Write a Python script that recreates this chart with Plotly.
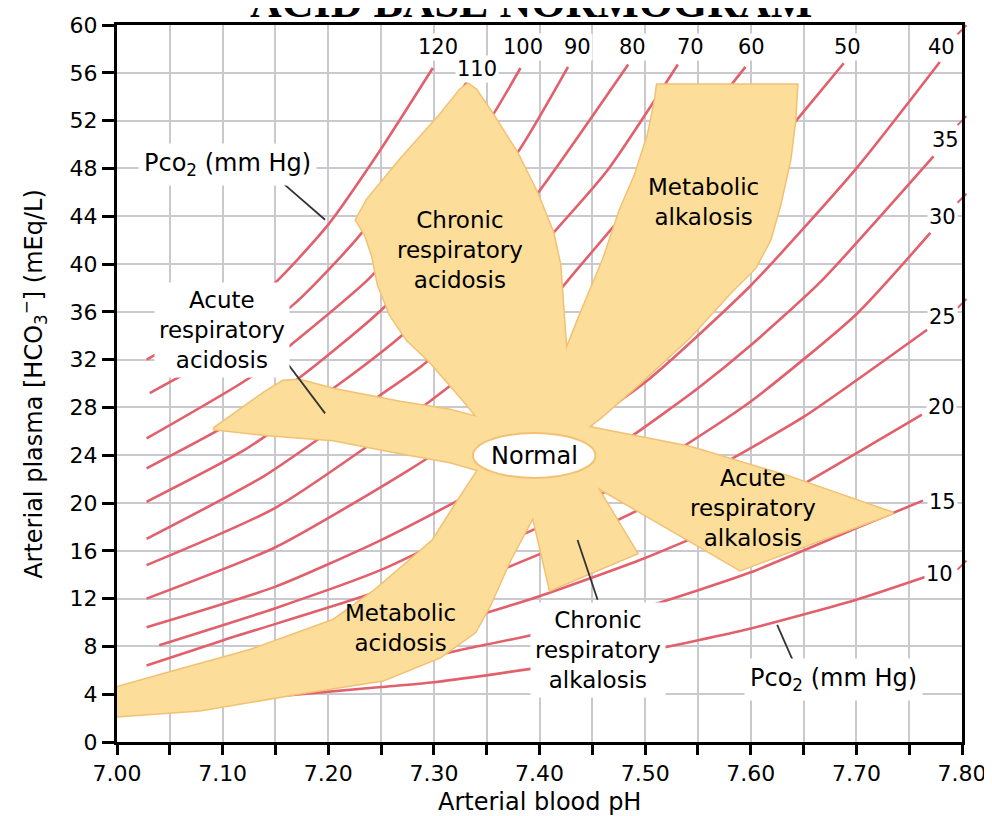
import plotly.graph_objects as go

# ---------------- data ----------------
# PCO2 isopleths (mm Hg): points (arterial pH, plasma HCO3- mEq/L)
pco2_levels = [120, 110, 100, 90, 80, 70, 60, 50, 40, 35, 30, 25, 20, 15, 10]
isopleth_ph = [
    [7.028, 7.08, 7.143, 7.20, 7.249, 7.299],
    [7.031, 7.10, 7.167, 7.228, 7.28, 7.334],
    [7.028, 7.126, 7.167, 7.24, 7.30, 7.356, 7.382],
    [7.028, 7.10, 7.173, 7.252, 7.32, 7.379, 7.427],
    [7.028, 7.12, 7.211, 7.268, 7.34, 7.398, 7.484],
    [7.028, 7.14, 7.252, 7.289, 7.35, 7.413, 7.464, 7.531],
    [7.028, 7.15, 7.296, 7.40, 7.438, 7.464, 7.53, 7.595],
    [7.028, 7.15, 7.277, 7.40, 7.50, 7.60, 7.644, 7.688],
    [7.028, 7.15, 7.25, 7.331, 7.40, 7.50, 7.60, 7.70, 7.779],
    [7.040, 7.15, 7.25, 7.35, 7.45, 7.489, 7.55, 7.60, 7.666, 7.773],
    [7.028, 7.10, 7.223, 7.30, 7.40, 7.521, 7.60, 7.70, 7.77],
    [7.24, 7.30, 7.375, 7.45, 7.50, 7.58, 7.65, 7.767],
    [7.28, 7.353, 7.40, 7.50, 7.60, 7.656, 7.762],
    [7.28, 7.325, 7.39, 7.50, 7.60, 7.70, 7.763],
    [7.161, 7.25, 7.30, 7.39, 7.50, 7.60, 7.70, 7.765],
]
isopleth_hco3 = [
    [32.0, 34.6, 37.9, 43.3, 49.5, 56.4],
    [29.2, 32.6, 36.6, 42.2, 48.4, 55.6],
    [25.4, 30.5, 33.4, 38.9, 45.5, 52.5, 56.4],
    [22.9, 26.3, 30.5, 36.3, 43.0, 49.3, 56.5],
    [20.1, 24.4, 30.0, 33.9, 39.8, 45.9, 56.7],
    [17.0, 22.3, 29.2, 31.5, 36.6, 42.6, 47.8, 56.7],
    [14.8, 19.6, 28.5, 35.9, 39.8, 42.5, 49.3, 56.5],
    [12.0, 16.3, 22.8, 30.0, 37.7, 47.4, 52.1, 56.8],
    [9.6, 13.0, 16.9, 20.6, 24.0, 30.1, 38.2, 48.0, 56.9],
    [8.1, 11.2, 14.4, 18.7, 23.5, 25.7, 29.6, 33.2, 38.5, 49.0],
    [6.4, 8.5, 11.9, 14.3, 18.0, 23.9, 28.5, 35.8, 42.6],
    [10.6, 12.2, 14.8, 17.6, 19.7, 23.6, 27.2, 34.5],
    [9.0, 10.9, 12.2, 15.4, 19.2, 21.9, 27.4],
    [6.8, 7.7, 8.9, 11.3, 14.2, 17.9, 20.2],
    [3.9, 4.6, 5.0, 6.1, 7.6, 9.5, 11.9, 13.8],
]
# short isopleth stubs visible at the right border (pH 7.80)
edge_stub_hco3 = [59.6, 52.0, 45.5, 36.7, 14.8]

# outline of the shaded acid-base bands (one connected star shape)
region_ph = [
    7.0909, 7.1165, 7.1402, 7.1572, 7.1733, 7.2045, 7.2680, 7.3153, 7.3409,
    7.3277, 7.2964, 7.2746, 7.2585, 7.2472, 7.2415, 7.2348, 7.2263, 7.2367,
    7.2680, 7.3059, 7.3248, 7.3324, 7.3400, 7.3561, 7.3788, 7.3977, 7.4129,
    7.4195, 7.4223, 7.4252, 7.4384, 7.4602, 7.4763, 7.4905, 7.5028, 7.5095,
    7.5114, 7.6439, 7.6420, 7.6373, 7.6278, 7.6184, 7.6042, 7.5805, 7.5426,
    7.4953, 7.4574, 7.4460, 7.5426, 7.6373, 7.7348, 7.5900, 7.5331, 7.4545,
    7.4924, 7.4479, 7.4100, 7.3939, 7.3722, 7.3532, 7.3390, 7.3059, 7.2519,
    7.1733, 7.0786, 7.0000, 7.0000, 7.0473, 7.1259, 7.2045, 7.2443, 7.2775,
    7.2992, 7.3201, 7.3419, 7.3153, 7.2680, 7.2045, 7.1420, 7.0909,
]
region_hco3 = [
    26.19, 27.78, 29.29, 30.21, 30.29, 29.54, 28.45, 27.78, 27.19,
    28.62, 31.80, 33.64, 35.74, 38.25, 40.76, 42.44, 43.69, 45.37,
    48.72, 52.49, 54.58, 55.08, 54.58, 52.49, 49.31, 45.96, 42.61,
    39.93, 36.16, 32.81, 35.74, 40.35, 44.53, 47.46, 50.81, 53.74,
    55.00, 55.00, 52.07, 48.72, 44.95, 42.02, 39.67, 37.58, 33.89,
    30.04, 27.11, 26.36, 24.68, 22.17, 19.16, 14.38, 17.31, 21.33,
    15.80, 14.13, 12.70, 18.82, 15.22, 11.45, 9.19, 7.10, 5.17,
    4.08, 2.65, 2.15, 4.58, 5.75, 7.68, 10.19, 12.70, 15.22,
    16.89, 19.82, 22.76, 23.43, 24.18, 25.27, 25.69, 26.19,
]
# "Normal" ellipse extent
normal_ph_range = [7.337, 7.453]
normal_hco3_range = [22.1, 25.85]

x_tickvals = [7.00, 7.05, 7.10, 7.15, 7.20, 7.25, 7.30, 7.35, 7.40, 7.45,
              7.50, 7.55, 7.60, 7.65, 7.70, 7.75, 7.80]
x_ticktext = ["7.00", " ", "7.10", " ", "7.20", " ", "7.30", " ", "7.40", " ",
              "7.50", " ", "7.60", " ", "7.70", " ", "7.80"]
y_tickvals = [0, 4, 8, 12, 16, 20, 24, 28, 32, 36, 40, 44, 48, 52, 56, 60]

# ---------------- styles ----------------
RED = "#E2606C"
FILL = "#FCDD99"
EDGE = "#F2C174"
FONT = "DejaVu Sans"

fig = go.Figure()

for lvl, xs, ys in zip(pco2_levels, isopleth_ph, isopleth_hco3):
    fig.add_trace(go.Scatter(x=xs, y=ys, mode="lines",
                             line=dict(color=RED, width=2.6, shape="spline", smoothing=0.6),
                             name=f"PCO2 {lvl}", hoverinfo="skip"))

fig.add_trace(go.Scatter(x=[7.8] * len(edge_stub_hco3), y=edge_stub_hco3, mode="markers",
                         marker=dict(symbol="line-ne", size=9, line=dict(color=RED, width=2)),
                         cliponaxis=False, hoverinfo="skip"))

# region: outline pass then fill pass (hides inner halves of the stroke)
fig.add_trace(go.Scatter(x=region_ph, y=region_hco3, mode="lines", fill="toself",
                         fillcolor=FILL, line=dict(color=EDGE, width=3), hoverinfo="skip"))
fig.add_trace(go.Scatter(x=region_ph, y=region_hco3, mode="lines", fill="toself",
                         fillcolor=FILL, line=dict(color=FILL, width=0), hoverinfo="skip"))

fig.add_shape(type="circle", xref="x", yref="y",
              x0=normal_ph_range[0], x1=normal_ph_range[1],
              y0=normal_hco3_range[0], y1=normal_hco3_range[1],
              fillcolor="white", line=dict(color=EDGE, width=2), layer="above")

# pointer lines
pointers = [
    ((7.154, 47.0), (7.197, 43.7)),
    ((7.157, 32.2), (7.197, 27.5)),
    ((7.436, 16.9), (7.455, 11.9)),
    ((7.625, 9.8), (7.642, 6.4)),
]
for (xa, ya), (xb, yb) in pointers:
    fig.add_shape(type="line", xref="x", yref="y", x0=xa, y0=ya, x1=xb, y1=yb,
                  line=dict(color="#333333", width=1.8), layer="above")

annos = []
def lab(text, x, y, size=23, bg=None, pad=3):
    d = dict(text=text, x=x, y=y, xref="x", yref="y", showarrow=False,
             font=dict(family=FONT, size=size, color="black"), align="center")
    if bg:
        d.update(bgcolor=bg, borderpad=pad)
    annos.append(d)

lab("Pco<sub>2</sub> (mm Hg)", 7.105, 48.3, size=24, bg="white", pad=5)
lab("Acute<br>respiratory<br>acidosis", 7.099, 34.5, bg="white", pad=4)
lab("Chronic<br>respiratory<br>acidosis", 7.325, 41.2)
lab("Metabolic<br>alkalosis", 7.555, 45.2)
lab("Normal", 7.395, 23.9, size=24)
lab("Acute<br>respiratory<br>alkalosis", 7.602, 19.6)
lab("Metabolic<br>acidosis", 7.268, 9.5)
lab("Chronic<br>respiratory<br>alkalosis", 7.455, 7.7, bg="white", pad=4)
lab("Pco<sub>2</sub> (mm Hg)", 7.678, 5.2, size=24, bg="white", pad=5)

level_label_pos = [
    (7.304, 58.2), (7.341, 56.3), (7.384, 58.2), (7.436, 58.2), (7.488, 58.2),
    (7.543, 58.2), (7.601, 58.2), (7.692, 58.2), (7.781, 58.2), (7.784, 50.4),
    (7.782, 43.9), (7.782, 35.6), (7.781, 28.0), (7.782, 20.1), (7.779, 14.1),
]
for lvl, (x, y) in zip(pco2_levels, level_label_pos):
    lab(str(lvl), x, y, size=21, bg="white", pad=1)

annos.append(dict(text="<b>ACID BASE NORMOGRAM</b>", xref="paper", yref="paper",
                  x=0.49, y=1.031, xanchor="center", yanchor="middle", showarrow=False,
                  font=dict(family="Liberation Serif", size=44, color="black")))
annos.append(dict(text="Arterial blood pH", xref="paper", yref="paper",
                  x=0.5, y=-0.083, xanchor="center", yanchor="middle", showarrow=False,
                  font=dict(family=FONT, size=24, color="black")))
annos.append(dict(text="Arterial plasma [HCO<sub>3</sub><sup>\u2212</sup>] (mEq/L)",
                  xref="paper", yref="paper", x=-0.099, y=0.5, textangle=-90,
                  xanchor="center", yanchor="middle", showarrow=False,
                  font=dict(family=FONT, size=24, color="black")))

# the page body adds an 8 px offset, so the figure is drawn 8 px smaller/shifted
fig.update_layout(
    width=984, height=808,
    margin=dict(l=109, r=30, t=17, b=74, autoexpand=False),
    paper_bgcolor="white", plot_bgcolor="white",
    showlegend=False,
    annotations=annos,
    xaxis=dict(range=[7.0, 7.8], tickmode="array", tickvals=x_tickvals, ticktext=x_ticktext,
               automargin=False,
               showgrid=True, gridcolor="#CACACE", gridwidth=2, zeroline=False,
               showline=True, linecolor="black", linewidth=3, mirror=True,
               ticks="outside", ticklen=10, tickwidth=2.5, tickcolor="black",
               tickfont=dict(family=FONT, size=22, color="black")),
    yaxis=dict(range=[0, 60], tickmode="array", tickvals=y_tickvals,
               automargin=False,
               showgrid=True, gridcolor="#CACACE", gridwidth=2, zeroline=False,
               showline=True, linecolor="black", linewidth=3, mirror=True,
               ticks="outside", ticklen=12, tickwidth=2.5, tickcolor="black",
               tickfont=dict(family=FONT, size=22, color="black")),
)

fig.write_html("out.html")
